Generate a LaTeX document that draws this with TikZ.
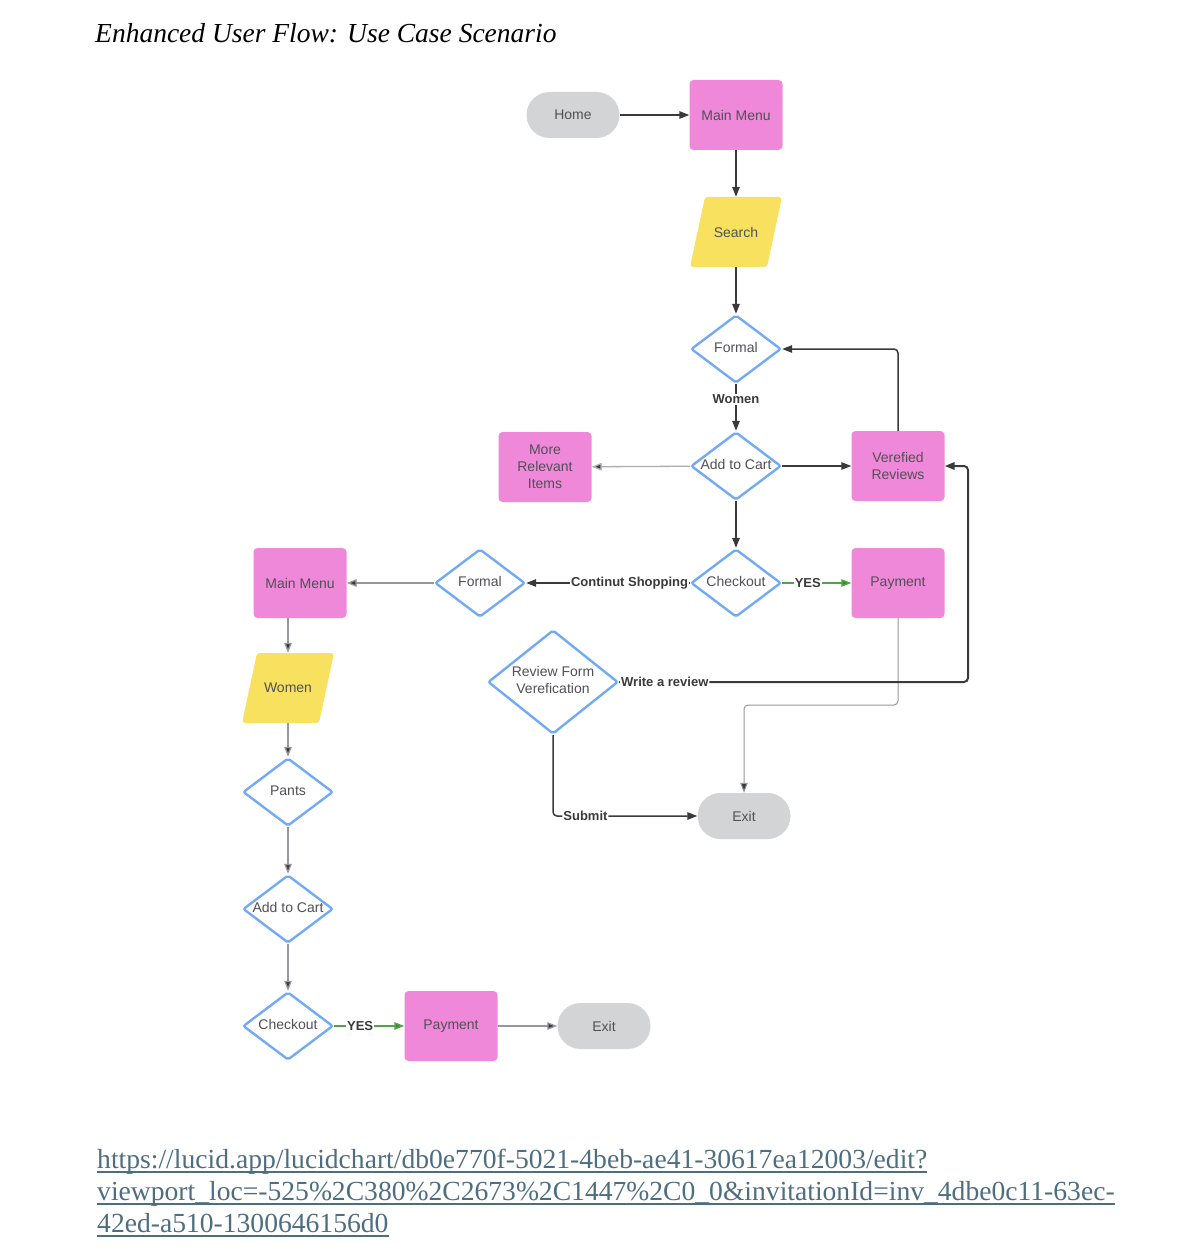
\documentclass[tikz,border=0pt]{standalone}
\usepackage{fontspec}
\setmainfont{Liberation Serif}
\setsansfont{Liberation Sans}
\usetikzlibrary{shapes.geometric,arrows.meta}

\definecolor{boxpink}{RGB}{239,136,216}
\definecolor{ioyellow}{RGB}{249,225,96}
\definecolor{termgray}{RGB}{211,212,214}
\definecolor{diablue}{RGB}{115,170,245}
\definecolor{nodetext}{RGB}{80,80,86}
\definecolor{linedark}{RGB}{58,58,60}
\definecolor{linegray}{RGB}{150,150,156}
\definecolor{linelight}{RGB}{172,172,178}
\definecolor{yesgreen}{RGB}{80,165,70}
\definecolor{linkblue}{RGB}{78,110,128}

\newcommand{\ctext}[1]{\makebox[0pt]{\begin{tabular}{@{}c@{}}#1\end{tabular}}}

\begin{document}
\begin{tikzpicture}[x=1pt, y=-1pt,
        every node/.style={font=\sffamily\fontsize{14}{17}\selectfont, text=nodetext, align=center},
        term/.style={rectangle, rounded corners=23pt, fill=termgray, minimum width=93pt, minimum height=46pt},
        menu/.style={rectangle, rounded corners=4pt, fill=boxpink, minimum width=93pt, minimum height=70pt},
        io/.style={rectangle, minimum width=92pt, minimum height=70pt,
            path picture={\fill[ioyellow, rounded corners=3pt]
                ([xshift=15pt]path picture bounding box.north west) -- (path picture bounding box.north east)
                -- ([xshift=-15pt]path picture bounding box.south east) -- (path picture bounding box.south west) -- cycle;}},
        decide/.style={diamond, draw=diablue, line width=2.4pt, rounded corners=2pt, fill=white,
            minimum width=90pt, minimum height=68pt, inner sep=0pt},
        lbl/.style={fill=white, inner sep=1pt, text=linedark, font=\sffamily\bfseries\fontsize{13}{15}\selectfont},
        flow/.style={draw=linedark, line width=1.5pt, -{Triangle[length=10pt,width=7.5pt]}},
        flowgray/.style={draw=linegray, line width=1.3pt, -{Triangle[length=10pt,width=7.5pt,fill=linedark]}},
        flowlight/.style={draw=linelight, line width=1.3pt, -{Triangle[length=10pt,width=7.5pt,fill=linedark]}},
        yes/.style={draw=yesgreen, line width=1.5pt, -{Triangle[length=10pt,width=7.5pt,fill=yesgreen!80!black]}}]
        \useasboundingbox (0,0) rectangle (1192,1252);

        % --- Title ---
        \node[anchor=base west, inner sep=0pt, text=black, font=\rmfamily\itshape\fontsize{27.5}{32}\selectfont] (title) at (95,43) {Enhanced User Flow: Use Case Scenario};
        % ---

        % --- Main path ---
        \node[term] (home) at (573,115) {Home};
        \node[menu] (menu1) at (736,115) {Main Menu};
        \node[io] (search) at (736,232) {Search};
        \node[decide] (formal1) at (736,349) {\ctext{Formal}};
        \node[decide] (cart1) at (736,466) {\ctext{Add to Cart}};
        \node[menu] (more) at (545,467) {More\\Relevant\\Items};
        \node[menu] (verified) at (898,466) {Verefied\\Reviews};
        \node[decide] (check1) at (736,583) {\ctext{Checkout}};
        \node[menu] (pay1) at (898,583) {Payment};
        \node[decide, minimum width=130pt, minimum height=104pt] (review) at (553,682) {\ctext{Review Form\\Verefication}};
        \node[term] (exit1) at (744,816) {Exit};
        % ---

        % --- Left path ---
        \node[decide] (formal2) at (480,583) {\ctext{Formal}};
        \node[menu] (menu2) at (300,583) {Main Menu};
        \node[io] (women) at (288,688) {Women};
        \node[decide] (pants) at (288,792) {\ctext{Pants}};
        \node[decide] (cart2) at (288,909) {\ctext{Add to Cart}};
        \node[decide] (check2) at (288,1026) {\ctext{Checkout}};
        \node[menu] (pay2) at (451,1026) {Payment};
        \node[term] (exit2) at (604,1026) {Exit};
        % ---

        % --- Connectors ---
        \coordinate (payTurn) at (898,705);
        \coordinate (reviewTurn) at (968,682);
        \draw[flow] (home) -- (menu1);
        \draw[flow] (menu1) -- (search);
        \draw[flow] (search) -- (formal1);
        \draw[flow] (formal1) -- node[lbl, pos=0.33] {Women} (cart1);
        \draw[flowlight] (cart1) -- (more);
        \draw[flow] (cart1) -- (verified);
        \draw[flow, rounded corners=4pt] (verified.north) |- (formal1.east);
        \draw[flow] (cart1) -- (check1);
        \draw[flow] (check1) -- node[lbl, pos=0, anchor=east] {Continut Shopping} (formal2);
        \draw[yes] (check1) -- node[lbl, pos=0.37] {YES} (pay1);
        \draw[flowgray, line width=1pt, rounded corners=4pt] (pay1.south) -- (payTurn) -| (exit1.north);
        \draw[flow, line width=2pt, rounded corners=4pt] (review.east) -- node[lbl, pos=0, anchor=west] {Write a review} (reviewTurn) |- (verified.east);
        \draw[flow, rounded corners=4pt] (review.south) |- node[lbl, pos=0.53, anchor=west] {Submit} (exit1.west);
        \draw[flowgray] (formal2) -- (menu2);
        \draw[flowgray] (women.north |- menu2.south) -- (women.north);
        \draw[flowgray] (women) -- (pants);
        \draw[flowgray] (pants) -- (cart2);
        \draw[flowgray] (cart2) -- (check2);
        \draw[yes] (check2) -- node[lbl, pos=0.37] {YES} (pay2);
        \draw[flowgray] (pay2) -- (exit2);
        % ---

        % --- Link ---
        \begin{scope}[every node/.style={anchor=base west, inner sep=0pt, text=linkblue, font=\rmfamily\fontsize{27.6}{32}\selectfont}]
            \node (link1) at (97,1168) {https://lucid.app/lucidchart/db0e770f-5021-4beb-ae41-30617ea12003/edit?};
            \node (link2) at (97,1200) {viewport\_loc=-525\%2C380\%2C2673\%2C1447\%2C0\_0\&invitationId=inv\_4dbe0c11-63ec-};
            \node (link3) at (97,1232) {42ed-a510-1300646156d0};
        \end{scope}
        \foreach \l in {link1,link2,link3}
            \draw[linkblue, line width=2pt] ([yshift=-4pt]\l.base west) -- ([yshift=-4pt]\l.base east);
        % ---
    \end{tikzpicture}
\end{document}
